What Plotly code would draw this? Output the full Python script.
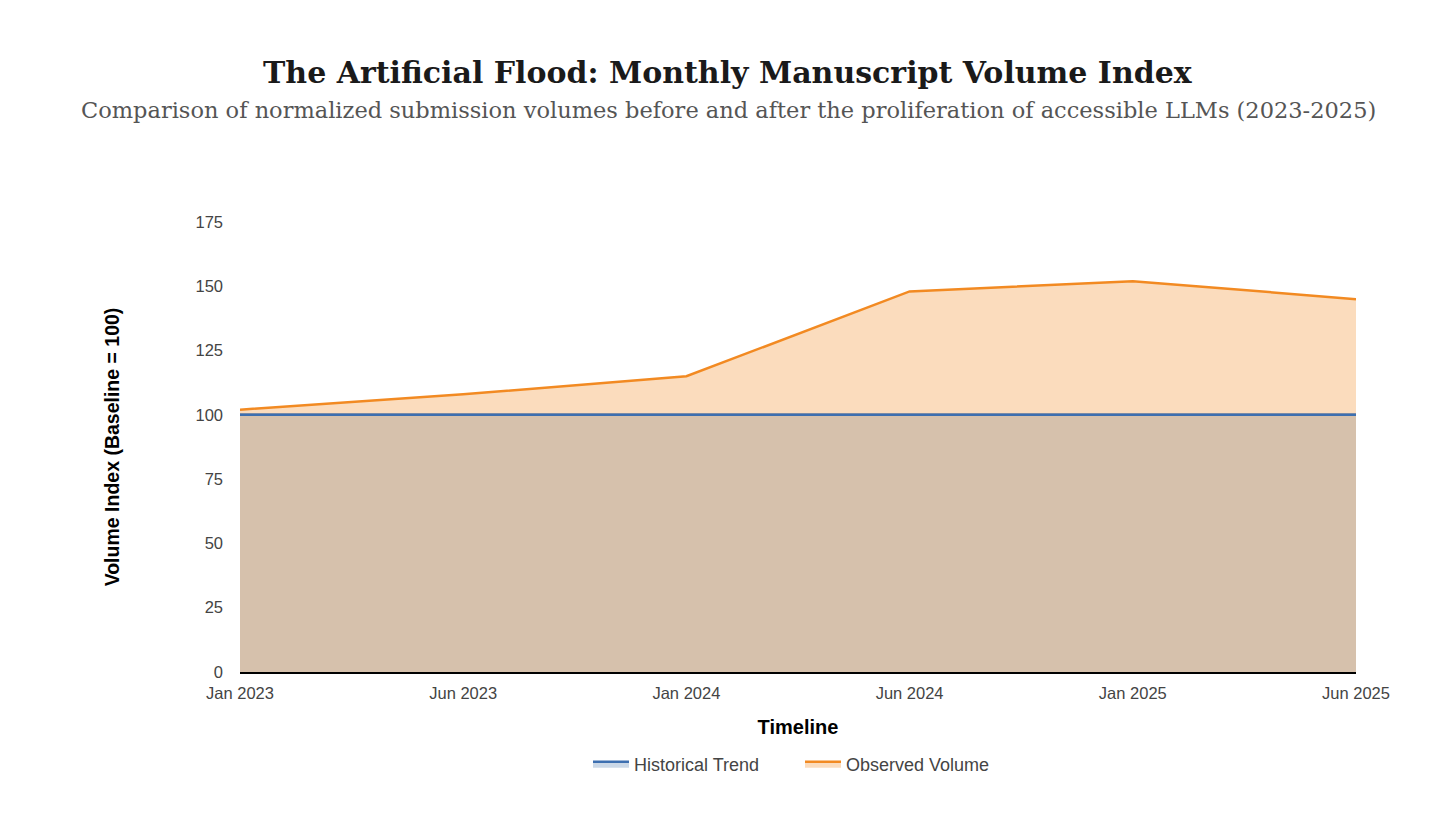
import plotly.graph_objects as go

categories = ["Jan 2023", "Jun 2023", "Jan 2024", "Jun 2024", "Jan 2025", "Jun 2025"]
historical = [100, 100, 100, 100, 100, 100]
observed = [102, 108, 115, 148, 152, 145]
y_ticks = [0, 25, 50, 75, 100, 125, 150, 175]

BLUE = "#3d6fb0"
ORANGE = "#f28a22"

fig = go.Figure()
fig.add_trace(go.Scatter(
    x=categories, y=historical, name="Historical Trend", mode="lines",
    line=dict(color=BLUE, width=2.5), fill="tozeroy",
    fillcolor="rgba(70,114,168,0.28)", legendrank=1,
))
fig.add_trace(go.Scatter(
    x=categories, y=observed, name="Observed Volume", mode="lines",
    line=dict(color=ORANGE, width=2.5), fill="tozeroy",
    fillcolor="rgba(242,138,38,0.30)", legendrank=2,
))
# historical line redrawn on top so it stays visible above the observed fill
fig.add_trace(go.Scatter(
    x=categories, y=historical, name="Historical Trend", mode="lines",
    line=dict(color=BLUE, width=2.5), showlegend=False, hoverinfo="skip",
))

# page offset: plotly div sits inside an 8px body margin
L, T, R, B = 232, 214, 108, 155
PLOT_L, PLOT_T, PLOT_R, PLOT_B = 240, 222, 1356, 672
pw = PLOT_R - PLOT_L
ph = PLOT_B - PLOT_T
cx = (728 - PLOT_L) / pw

fig.update_layout(
    width=1456, height=819,
    paper_bgcolor="white", plot_bgcolor="white",
    margin=dict(l=L, r=R, t=T, b=B),
    showlegend=True,
    legend=dict(orientation="h", x=(800 - PLOT_L) / pw, xanchor="center",
                y=(PLOT_B - 764) / ph, yanchor="middle",
                font=dict(family="Liberation Sans, Arial, sans-serif", size=18, color="#444"),
                itemwidth=36, entrywidth=161, entrywidthmode="pixels"),
    annotations=[
        dict(text="<b>The Artificial Flood: Monthly Manuscript Volume Index</b>",
             xref="paper", yref="paper", x=cx, y=(PLOT_B - 72) / ph,
             xanchor="center", yanchor="middle", showarrow=False,
             font=dict(family="DejaVu Serif, serif", size=30, color="#1a1a1a")),
        dict(text="Comparison of normalized submission volumes before and after the proliferation of accessible LLMs (2023-2025)",
             xref="paper", yref="paper", x=cx, y=(PLOT_B - 110) / ph,
             xanchor="center", yanchor="middle", showarrow=False,
             font=dict(family="DejaVu Serif, serif", size=22.5, color="#555")),
    ],
)

fig.update_xaxes(
    type="category", range=[0, len(categories) - 1],
    showgrid=False, showline=True, linecolor="#000", linewidth=1.5,
    ticks="", ticklabelstandoff=5,
    tickfont=dict(family="Liberation Sans, Arial, sans-serif", size=16.5, color="#444"),
    title=dict(text="<b>Timeline</b>", standoff=19,
               font=dict(family="Liberation Sans, Arial, sans-serif", size=20, color="#000")),
    zeroline=False,
)
fig.update_yaxes(
    range=[0, 175], tickvals=y_ticks, showgrid=False, showline=False, zeroline=False,
    ticks="", ticklabelstandoff=16,
    tickfont=dict(family="Liberation Sans, Arial, sans-serif", size=16.5, color="#444"),
    title=dict(text="<b>Volume Index (Baseline = 100)</b>", standoff=70,
               font=dict(family="Liberation Sans, Arial, sans-serif", size=19.5, color="#000")),
)

fig.write_html("out.html")
